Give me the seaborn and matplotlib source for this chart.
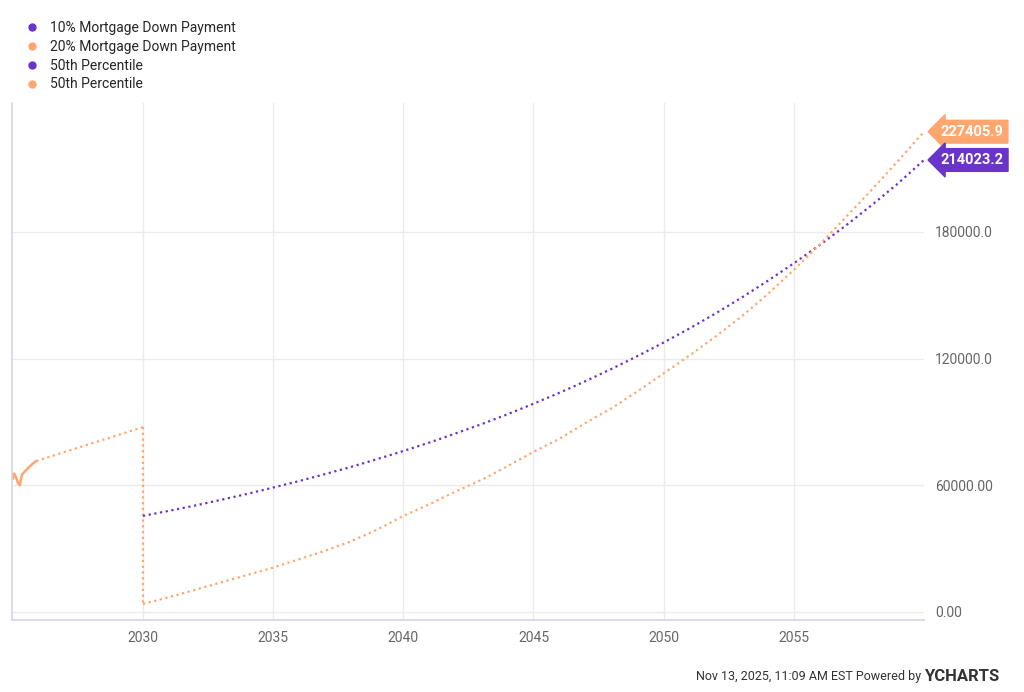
import matplotlib
matplotlib.use("Agg")
import matplotlib.pyplot as plt
import seaborn as sns
import pandas as pd
from matplotlib.lines import Line2D

sns.set_theme(style="white")
plt.rcParams['font.family'] = ['Roboto', 'DejaVu Sans']

PURPLE = "#6a33c9"
ORANGE = "#ffa66e"

early_x = [2025.0, 2025.05, 2025.12, 2025.2, 2025.27, 2025.35, 2025.5, 2025.7, 2025.9]
early_y = [63000, 65500, 64000, 61000, 60000, 65000, 67000, 69500, 71500]
orange_pre_x = [2025.9, 2030.0]
orange_pre_y = [71500, 87500]
years = list(range(2030, 2061))
purple = [45500, 47900, 50400, 53100, 55900, 58900, 62000, 65300, 68700, 72400, 76200,
          80200, 84500, 88900, 93600, 98600, 103800, 109300, 115100, 121200, 127600,
          134300, 141400, 148900, 156800, 165100, 173800, 183000, 192700, 202900, 214023.2]
orange = [3800, 7000, 10500, 14000, 17500, 21000, 25000, 29000, 33500, 39000, 45500,
          51000, 57000, 62500, 69000, 75800, 82000, 89500, 96500, 104500, 113000,
          121500, 130500, 140000, 150500, 162000, 174000, 187000, 200000, 213500, 227405.9]
yticks = [0, 60000, 120000, 180000]
ytick_labels = ["0.00", "60000.00", "120000.0", "180000.0"]
xticks = [2030, 2035, 2040, 2045, 2050, 2055]

fig = plt.figure(figsize=(10.24, 6.92), dpi=100)
ax = fig.add_axes([12/1024, 72/692, 912/1024, 517/692])

DOT = (0, (1, 1.6))
ax.plot(early_x, early_y, color=ORANGE, lw=1.8)
ax.plot(orange_pre_x, orange_pre_y, color=ORANGE, lw=1.6, ls=DOT)
ax.plot([2030, 2030], [87500, 3800], color=ORANGE, lw=1.6, ls=DOT)
df = pd.DataFrame({"year": years * 2, "value": purple + orange,
                   "series": ["p"] * len(years) + ["o"] * len(years)})
sns.lineplot(data=df, x="year", y="value", hue="series", palette={"p": PURPLE, "o": ORANGE},
             ax=ax, lw=1.6, legend=False, dashes=False)
for l in ax.lines[-2:]:
    l.set_linestyle(DOT)

ax.set_xlim(2024.97, 2060.0)
ax.set_ylim(-3800, 241000)
ax.set_xticks(xticks)
ax.set_xticklabels([str(x) for x in xticks], color="#666666", fontsize=10)
ax.yaxis.tick_right()
ax.set_yticks(yticks)
ax.set_yticklabels(ytick_labels, color="#666666", fontsize=10)
ax.tick_params(length=0, pad=8)
ax.grid(True, color="#ebebeb", lw=1)
ax.set_xlabel(""); ax.set_ylabel("")
for s in ["top", "right"]:
    ax.spines[s].set_visible(False)
for s in ["left", "bottom"]:
    ax.spines[s].set_color("#d6d6e6")

for val, col in [(orange[-1], ORANGE), (purple[-1], PURPLE)]:
    ax.annotate(f"{val:.1f}", xy=(1.0, val), xycoords=("axes fraction", "data"),
                xytext=(12, 0), textcoords="offset points", va="center", ha="left",
                color="white", fontsize=10.5, fontweight="bold",
                bbox=dict(boxstyle="larrow,pad=0.3", fc=col, ec=col))

handles = [Line2D([], [], marker="o", ls="", color=c, markersize=5)
           for c in [PURPLE, ORANGE, PURPLE, ORANGE]]
labels = ["10% Mortgage Down Payment", "20% Mortgage Down Payment", "50th Percentile", "50th Percentile"]
fig.legend(handles, labels, loc="upper left", bbox_to_anchor=(0.012, 0.978), frameon=False,
           fontsize=10, handletextpad=0.3, labelspacing=0.35, borderaxespad=0)

fig.text(0.9, 0.018, "Nov 13, 2025, 11:09 AM EST Powered by", ha="right", fontsize=9, color="#333333")
fig.text(0.902, 0.016, "YCHARTS", ha="left", fontsize=12, color="#333333", fontweight="bold")

fig.savefig("out.png", dpi=100)
